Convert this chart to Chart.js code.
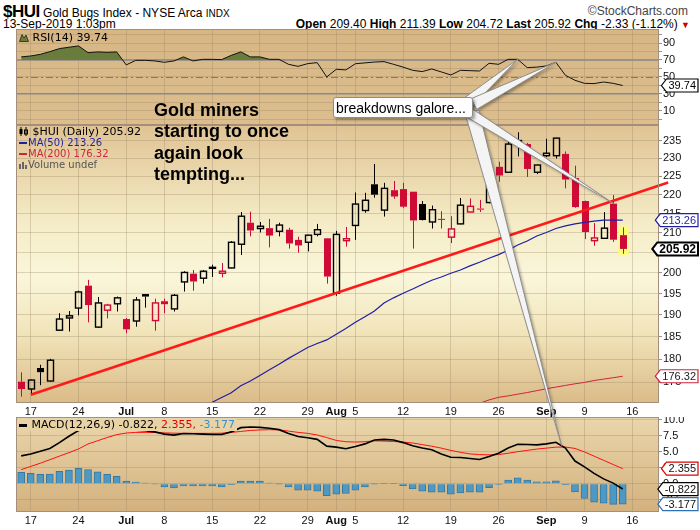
<!DOCTYPE html>
<html>
<head>
<meta charset="utf-8">
<script src="https://cdn.jsdelivr.net/npm/chart.js@4.4.1/dist/chart.umd.min.js"></script>
<style>
  body { margin: 0; width: 700px; height: 530px; background: #fff; position: relative; overflow: hidden;
         font-family: "Liberation Sans", Arial, sans-serif; color: #000; }
  canvas { position: absolute; left: 0; }
  .txt { position: absolute; white-space: nowrap; }
  .leg { position: absolute; white-space: nowrap; font-family: "DejaVu Sans", Verdana, sans-serif; }
  .dash { display: inline-block; width: 8px; height: 2px; vertical-align: middle; margin-right: 1px; }
</style>
</head>
<body>
<div class="txt" style="left:3px; top:2px; font-size:12px;"><span style="font-size:17px; font-weight:bold; letter-spacing:-0.5px">$HUI</span> Gold Bugs Index - NYSE Arca <span style="font-size:10px">INDX</span></div>
<div class="txt" style="right:12px; top:4px; font-size:12px; color:#444">&copy;StockCharts.com</div>
<div class="txt" style="left:3px; top:17px; font-size:12px;">13-Sep-2019 1:03pm</div>
<div class="txt" style="right:10px; top:17px; font-size:12px;"><b>Open</b> 209.40 <b>High</b> 211.39 <b>Low</b> 204.72 <b>Last</b> 205.92 <b>Chg</b> -2.33 (-1.12%) <span style="color:#c00; font-size:9px">&#9660;</span></div>

<canvas id="rsi" width="700" height="96" style="top:29px"></canvas>
<canvas id="price" width="700" height="295" style="top:125px"></canvas>
<canvas id="macd" width="700" height="113" style="top:417px"></canvas>

<div class="leg" style="left:19px; top:31px; font-size:11px;"><svg width="10" height="9" style="vertical-align:-1px"><path d="M0.5 8.5 L3 1.5 L5 5 L7 2 L9.5 8.5 Z" fill="#6a7c3c" stroke="#222" stroke-width="0.8"/></svg> RSI(14) 39.74</div>

<div class="leg" style="left:19px; top:126px; font-size:11px; line-height:11px;">
  <div><svg width="10" height="9" style="vertical-align:-1px"><path d="M2 0 V9 M7 0 V9" stroke="#000"/><rect x="0.5" y="2" width="3" height="5" fill="#000"/><rect x="5.5" y="3" width="3" height="4" fill="none" stroke="#000"/></svg> $HUI (Daily) 205.92</div>
  <div style="font-size:10px; color:#1f1fa5"><span class="dash" style="background:#1f1fa5"></span>MA(50) 213.26</div>
  <div style="font-size:10px; color:#d0243c"><span class="dash" style="background:#d0243c"></span>MA(200) 176.32</div>
  <div style="font-size:10px; color:#555"><svg width="9" height="8" style="vertical-align:-1px"><rect x="0" y="3" width="2" height="5" fill="#666"/><rect x="3" y="1" width="2" height="7" fill="#666"/><rect x="6" y="4" width="2" height="4" fill="#666"/></svg>Volume undef</div>
</div>

<div class="leg" style="left:18px; top:419px; font-size:11px; line-height:12px; background:#e8d3a7; padding:0 2px 0 1px;"><span class="dash" style="background:#000; height:3px"></span> MACD(12,26,9) -0.822, <span style="color:#e00000">2.355,</span> <span style="color:#3a8fd0">-3.177</span></div>

<div class="txt" style="left:154px; top:100px; font-size:18px; font-weight:bold; line-height:21.3px;">Gold miners<br>starting to once<br>again look<br>tempting...</div>

<canvas id="overlay" width="700" height="530" style="top:0"></canvas>

<div class="txt" style="left:333px; top:97px; width:140px; height:21px; background:#fff; border:1px solid #8c8c8c; border-radius:3px; box-shadow:2px 2px 3px rgba(0,0,0,0.35); font-size:14px; line-height:21px; padding-left:2px; box-sizing:border-box;">breakdowns galore...</div>

<script>
// ---- data: $HUI daily, 14 Jun - 13 Sep 2019 ----
const dates = [
  'Jun 14', 'Jun 17', 'Jun 18', 'Jun 19', 'Jun 20', 'Jun 21', 'Jun 24', 'Jun 25', 'Jun 26', 'Jun 27', 'Jun 28',
  'Jul 1', 'Jul 2', 'Jul 3', 'Jul 5', 'Jul 8', 'Jul 9', 'Jul 10', 'Jul 11', 'Jul 12', 'Jul 15', 'Jul 16',
  'Jul 17', 'Jul 18', 'Jul 19', 'Jul 22', 'Jul 23', 'Jul 24', 'Jul 25', 'Jul 26', 'Jul 29', 'Jul 30', 'Jul 31',
  'Aug 1', 'Aug 2', 'Aug 5', 'Aug 6', 'Aug 7', 'Aug 8', 'Aug 9', 'Aug 12', 'Aug 13', 'Aug 14', 'Aug 15',
  'Aug 16', 'Aug 19', 'Aug 20', 'Aug 21', 'Aug 22', 'Aug 23', 'Aug 26', 'Aug 27', 'Aug 28', 'Aug 29', 'Aug 30',
  'Sep 3', 'Sep 4', 'Sep 5', 'Sep 6', 'Sep 9', 'Sep 10', 'Sep 11', 'Sep 12', 'Sep 13'
];
const open = [
  175.15, 173.6, 178.1, 175.3, 186.5, 189.3, 191.6, 196.9, 187.2, 191.1, 192.6,
  189.05, 188.6, 194.9, 188.7, 193.2, 191.4, 197.8, 199.8, 198.7, 201.25, 199.9,
  201.2, 207.1, 212.6, 211.1, 211.2, 210.4, 210.8, 208.2, 207.6, 209.6, 208.6,
  195.1, 208.0, 211.9, 215.8, 222.8, 215.9, 221.2, 221.5, 220.8, 217.5, 212.8,
  213.6, 208.9, 212.3, 215.4, 216.3, 217.9, 227.6, 226.1, 233.7, 234.0, 226.1,
  230.7, 230.7, 231.2, 224.5, 218.3, 208.0, 208.6, 217.6, 209.40
];
const high = [
  177.15, 175.6, 178.8, 180.1, 190.4, 190.9, 195.7, 198.3, 194.2, 192.6, 194.3,
  189.3, 194.2, 194.9, 193.8, 193.8, 194.9, 200.4, 200.7, 200.7, 202.0, 202.4,
  207.9, 215.4, 215.5, 212.8, 213.6, 212.6, 211.3, 209.0, 209.5, 212.3, 208.7,
  210.5, 211.5, 220.6, 220.5, 228.4, 223.2, 223.7, 223.2, 220.8, 218.3, 217.1,
  215.6, 214.3, 219.1, 219.0, 218.6, 227.9, 229.0, 235.2, 237.4, 234.3, 228.2,
  235.5, 235.8, 231.9, 227.9, 218.4, 212.5, 215.4, 219.9, 211.39
];
const low = [
  172.0, 172.4, 174.4, 175.2, 186.3, 186.2, 189.9, 188.3, 187.0, 189.2, 190.8,
  185.8, 187.3, 191.7, 186.4, 190.4, 190.8, 195.5, 195.7, 197.4, 199.0, 198.9,
  201.1, 204.4, 209.1, 210.1, 206.3, 209.1, 206.0, 205.0, 205.3, 209.1, 197.4,
  194.5, 206.5, 208.2, 215.2, 219.2, 214.2, 218.9, 216.4, 206.0, 213.2, 211.1,
  211.1, 207.4, 212.2, 215.3, 215.4, 217.7, 223.5, 226.0, 230.5, 224.8, 225.6,
  230.3, 229.9, 221.7, 216.5, 208.4, 206.7, 208.5, 207.7, 204.72
];
const close = [
  173.6, 175.5, 177.2, 179.8, 189.05, 189.8, 195.4, 192.3, 192.8, 192.3, 194.0,
  186.7, 193.5, 194.3, 192.8, 192.5, 194.6, 200.1, 197.9, 200.4, 201.35, 200.4,
  207.6, 214.3, 210.6, 211.7, 209.3, 212.0, 207.3, 206.8, 209.4, 210.8, 199.1,
  209.6, 208.5, 217.5, 218.5, 220.0, 221.7, 219.5, 216.8, 213.2, 213.3, 216.0,
  213.4, 211.0, 217.2, 216.9, 216.1, 225.8, 225.2, 234.0, 235.0, 227.0, 228.1,
  231.4, 235.7, 224.1, 216.7, 210.2, 208.7, 211.2, 208.25, 205.92
];
const priorClose = 175.6;          // 13 Jun close, only sets the colour of the first candle

const ma50Start = 20;              // first day on which MA(50) is inside the panel
const ma50 = [
  170.8, 171.8, 172.8, 174.3, 175.3, 176.5, 177.7, 178.9, 180.2, 181.4,
  182.6, 183.5, 184.3, 185.6, 186.9, 188.3, 189.6, 190.9, 192.8, 194.0,
  195.1, 196.1, 197.2, 198.2, 199.0, 199.9, 200.7, 201.7, 202.6, 203.6,
  204.5, 205.6, 206.9, 207.9, 209.2, 210.1, 211.1, 211.8, 212.3, 212.7,
  213.0, 213.3, 213.3, 213.26
];
const ma200Start = 48;
const ma200 = [170.6, 171.3, 171.85, 172.15, 172.5, 172.85, 173.25, 173.65, 174.0, 174.35, 174.7, 175.0, 175.4, 175.7, 176.0, 176.32];

const trendFrom = [1, 172.4];      // hand-drawn support line: [day index, price]
const trendTo = [67.76, 223.3];

const rsi14 = [
  73.6, 74.7, 76.6, 79.8, 83.4, 85.0, 86.6, 78.6, 79.5, 79.0, 79.5,
  64.1, 69.5, 69.5, 68.8, 67.2, 68.8, 73.6, 68.8, 70.7, 70.7, 70.4,
  75.4, 79.5, 73.6, 73.6, 70.7, 70.7, 64.8, 62.4, 65.6, 66.8, 49.9,
  58.9, 58.2, 65.5, 66.5, 67.5, 68.0, 64.8, 61.5, 57.7, 56.2, 59.3,
  55.8, 52.2, 57.7, 57.3, 56.9, 66.0, 64.8, 70.7, 70.7, 60.9, 61.5,
  62.9, 67.2, 51.8, 45.9, 42.3, 42.0, 43.9, 42.3, 39.74
];

const macdLine = [
  4.34, 4.65, 5.05, 5.5, 6.4, 7.4, 8.3, 8.5, 8.6, 8.65, 8.8,
  8.33, 8.33, 8.28, 8.08, 7.73, 7.58, 7.83, 7.78, 7.73, 7.68, 7.68,
  8.08, 8.74, 8.84, 8.79, 8.64, 8.43, 7.83, 7.37, 7.17, 6.92, 5.86,
  5.71, 5.45, 5.81, 6.21, 6.82, 6.92, 6.82, 6.41, 5.91, 5.56, 5.30,
  4.65, 4.14, 4.09, 3.94, 3.79, 4.24, 4.75, 5.56, 6.16, 6.11, 6.06,
  6.21, 6.46, 5.56, 3.54, 2.63, 1.62, 0.76, 0.10, -0.822
];
const macdSignal = [
  2.20, 2.70, 3.20, 3.75, 4.30, 4.85, 5.42, 6.20, 6.70, 7.20, 7.65,
  7.90, 8.00, 8.00, 7.98, 7.93, 7.88, 7.85, 7.85, 7.85, 7.85, 7.88,
  8.00, 8.15, 8.30, 8.38, 8.42, 8.40, 8.20, 8.00, 7.85, 7.60, 7.20,
  6.75, 6.55, 6.50, 6.55, 6.68, 6.65, 6.58, 6.50, 6.35, 6.10, 5.85,
  5.55, 5.20, 4.90, 4.65, 4.55, 4.50, 4.55, 4.75, 5.00, 5.20, 5.40,
  5.55, 5.70, 5.72, 5.50, 4.95, 4.30, 3.65, 3.00, 2.355
];
const macdHist = [
  1.77, 1.62, 1.46, 1.52, 1.92, 2.12, 2.42, 2.22, 1.87, 1.46, 1.16,
  0.40, 0.25, 0.10, -0.05, -0.50, -0.66, -0.35, -0.35, -0.35, -0.35, -0.50,
  -0.15, 0.40, 0.40, 0.40, 0.10, -0.02, -0.50, -1.01, -1.01, -1.16, -1.87,
  -1.62, -1.52, -1.01, -0.50, -0.02, 0.05, 0.05, -0.30, -0.81, -1.16, -1.31,
  -1.31, -1.62, -1.41, -1.31, -1.31, -0.61, -0.10, 0.56, 0.91, 0.56, 0.30,
  0.30, 0.45, -0.15, -1.26, -2.27, -2.88, -3.03, -3.2, -3.177
];

// axis ticks
const tickIdx = [1, 6, 11, 15, 20, 25, 30, 33, 35, 40, 45, 50, 55, 59, 64];
const tickText = ['17', '24', 'Jul', '8', '15', '22', '29', 'Aug', '5', '12', '19', '26', 'Sep', '9', '16'];
const monthTicks = ['Jul', 'Aug', 'Sep'];
const priceTicks = [175, 180, 185, 190, 195, 200, 205, 210, 215, 220, 225, 230, 235];
const rsiTicks = [0, 10, 20, 30, 40, 50, 60, 70, 80, 90, 100];
const rsiLabelled = [10, 30, 50, 70, 90];
const macdTicks = [-2.5, 0, 2.5, 5, 7.5, 10];

// ---- look ----
const FONT = '"Liberation Sans", Arial, sans-serif';
const gridColor = 'rgba(150,125,95,0.30)';
const frameColor = '#a48e7e';
const xMin = -0.545, xMax = 66.8;
const axisWidth = 41;
const boxRight = 698;

const pts = (arr, start = 0) => arr.map((v, i) => ({ x: i + start, y: v }));

function xAxis(showLabels, height) {
  return {
    type: 'linear', min: xMin, max: xMax, offset: false,
    afterBuildTicks: s => { s.ticks = tickIdx.map(v => ({ value: v })); },
    afterFit: s => { s.height = height; s.paddingLeft = 0; s.paddingRight = 0; },
    grid: { color: gridColor, drawTicks: false, offset: false },
    border: { display: false },
    ticks: {
      display: showLabels, autoSkip: false, maxRotation: 0, padding: 2, color: '#111',
      callback: (v, i) => tickText[i],
      font: c => ({ family: FONT, size: 11, weight: monthTicks.includes(tickText[c.index]) ? 'bold' : 'normal' })
    }
  };
}

function yAxis(extra) {
  return Object.assign({
    position: 'right',
    afterFit: s => { s.width = axisWidth; s.paddingTop = 0; s.paddingBottom = 0; },
    grid: { color: gridColor, drawTicks: true, tickLength: 3, tickColor: frameColor },
    border: { display: false },
    ticks: { autoSkip: false, padding: 1, color: '#111', font: { family: FONT, size: 11 } }
  }, extra);
}

function panel(stops) {
  return {
    id: 'panel',
    beforeDraw(chart) {
      const { ctx, chartArea: a } = chart;
      const g = ctx.createLinearGradient(0, a.top, 0, a.bottom);
      stops.forEach(([o, c]) => g.addColorStop(o, c));
      ctx.save();
      ctx.fillStyle = g;
      ctx.fillRect(a.left, a.top, a.right - a.left, a.bottom - a.top);
      ctx.restore();
    },
    afterDraw(chart) {
      const { ctx, chartArea: a } = chart;
      ctx.save();
      ctx.strokeStyle = frameColor;
      ctx.lineWidth = 1;
      ctx.strokeRect(a.left + 0.5, a.top + 0.5, a.right - a.left - 1, a.bottom - a.top - 1);
      ctx.restore();
    }
  };
}

// last-value tag on the right axis, pointing left at its value
function valueBox(ctx, yc, text, border, color, bold) {
  ctx.save();
  ctx.font = (bold ? 'bold 12px ' : '11px ') + FONT;
  const w = ctx.measureText(text).width + 4, h = 13, tip = 5;
  const x1 = boxRight, x0 = x1 - w - tip;
  ctx.beginPath();
  ctx.moveTo(x0, yc);
  ctx.lineTo(x0 + tip, yc - h / 2);
  ctx.lineTo(x1, yc - h / 2);
  ctx.lineTo(x1, yc + h / 2);
  ctx.lineTo(x0 + tip, yc + h / 2);
  ctx.closePath();
  ctx.fillStyle = '#fff';
  ctx.fill();
  ctx.lineWidth = bold ? 2 : 1.2;
  ctx.strokeStyle = border;
  ctx.stroke();
  ctx.fillStyle = color;
  ctx.textBaseline = 'middle';
  ctx.fillText(text, x0 + tip + 2, yc + 0.5);
  ctx.restore();
}

const common = {
  responsive: false, animation: false, devicePixelRatio: 1, events: [],
  plugins: { legend: { display: false }, tooltip: { enabled: false } }
};

// ---- RSI panel ----
const rsiChart = new Chart(document.getElementById('rsi'), {
  type: 'line',
  data: {
    datasets: [{
      data: pts(rsi14), borderColor: '#111', borderWidth: 1, pointRadius: 0, tension: 0,
      fill: { target: { value: 70 }, above: '#6a7c3c', below: 'rgba(0,0,0,0)' }
    }]
  },
  options: Object.assign({}, common, {
    layout: { padding: { left: 16, right: 0, top: 0, bottom: 0 } },
    scales: {
      x: xAxis(false, 0),
      y: yAxis({
        type: 'linear', min: -7, max: 106.6,
        afterBuildTicks: s => { s.ticks = rsiTicks.map(v => ({ value: v })); },
        ticks: { autoSkip: false, padding: 1, color: '#111', font: { family: FONT, size: 11 },
                 callback: v => rsiLabelled.includes(v) ? String(v) : '' }
      })
    }
  }),
  plugins: [panel([[0, '#d7b684'], [1, '#dcbe8e']]), {
    id: 'rsiLevels',
    beforeDatasetsDraw(chart) {
      const { ctx, chartArea: a, scales: { y } } = chart;
      ctx.save();
      ctx.strokeStyle = '#8a8a8a';
      ctx.lineWidth = 1.5;
      [70, 30].forEach(v => {
        const py = y.getPixelForValue(v);
        ctx.beginPath(); ctx.moveTo(a.left, py); ctx.lineTo(a.right, py); ctx.stroke();
      });
      ctx.lineWidth = 1;
      ctx.strokeStyle = '#7a7a7a';
      ctx.setLineDash([7, 3, 2, 3]);
      const p50 = Math.round(y.getPixelForValue(50)) + 0.5;
      ctx.beginPath(); ctx.moveTo(a.left, p50); ctx.lineTo(a.right, p50); ctx.stroke();
      ctx.restore();
    },
    afterDraw(chart) {
      valueBox(chart.ctx, chart.scales.y.getPixelForValue(rsi14[rsi14.length - 1]), '39.74', '#000', '#000', false);
    }
  }]
});

// ---- price panel ----
const candles = {
  id: 'candles',
  beforeDatasetsDraw(chart) {
    const { ctx, chartArea: a, scales: { x, y } } = chart;
    ctx.save();
    ctx.beginPath();
    ctx.rect(a.left, a.top, a.right - a.left, a.bottom - a.top);
    ctx.clip();
    close.forEach((c, i) => {
      const o = open[i];
      const prev = i ? close[i - 1] : priorClose;
      const col = c < prev ? '#d00a36' : '#000';
      const px = Math.round(x.getPixelForValue(i)) + 0.5;
      const yH = y.getPixelForValue(high[i]), yL = y.getPixelForValue(low[i]);
      const yO = y.getPixelForValue(o), yC = y.getPixelForValue(c);
      const top = Math.min(yO, yC), bot = Math.max(yO, yC, top + 1);
      if (i === close.length - 1) {
        ctx.fillStyle = '#ffff6e';
        ctx.fillRect(px - 5, yH - 1, 10, yL - yH + 2);
      }
      ctx.strokeStyle = col;
      ctx.lineWidth = 1;
      ctx.beginPath();
      ctx.moveTo(px, yH); ctx.lineTo(px, top);
      ctx.moveTo(px, bot); ctx.lineTo(px, yL);
      ctx.stroke();
      if (c < o) {
        ctx.fillStyle = col;
        ctx.fillRect(px - 3.5, top, 7, bot - top);
      } else {
        ctx.lineWidth = 1.4;
        ctx.strokeRect(px - 3, top, 6, bot - top);
      }
    });
    ctx.restore();
  },
  afterDraw(chart) {
    const { ctx, scales: { y } } = chart;
    valueBox(ctx, y.getPixelForValue(ma50[ma50.length - 1]), '213.26', '#1f1fa5', '#1f1fa5', false);
    valueBox(ctx, y.getPixelForValue(close[close.length - 1]), '205.92', '#000', '#000', true);
    valueBox(ctx, y.getPixelForValue(ma200[ma200.length - 1]), '176.32', '#d0243c', '#222', false);
  }
};

const priceChart = new Chart(document.getElementById('price'), {
  type: 'line',
  data: {
    datasets: [
      { data: pts(ma50, ma50Start), borderColor: '#1f1fa5', borderWidth: 1.2, pointRadius: 0, tension: 0 },
      { data: pts(ma200, ma200Start), borderColor: '#d0243c', borderWidth: 1, pointRadius: 0, tension: 0 },
      { data: [{ x: trendFrom[0], y: trendFrom[1] }, { x: trendTo[0], y: trendTo[1] }],
        borderColor: '#ff1a1a', borderWidth: 2.6, pointRadius: 0, tension: 0,
        clip: { left: 0, top: 0, right: 12, bottom: 0 } }
    ]
  },
  options: Object.assign({}, common, {
    layout: { padding: { left: 16, right: 0, top: 0, bottom: 0 } },
    scales: {
      x: xAxis(true, 17),
      y: yAxis({
        type: 'logarithmic', min: 170.66, max: 239.5,
        afterBuildTicks: s => { s.ticks = priceTicks.map(v => ({ value: v })); },
        ticks: { autoSkip: false, padding: 1, color: '#111', font: { family: FONT, size: 11 }, callback: v => String(v) }
      })
    }
  }),
  plugins: [panel([[0, '#e0c393'], [0.36, '#f5edc8'], [0.55, '#faf6da'], [0.75, '#f1e4ba'], [1, '#dbbb88']]), candles]
});

// ---- MACD panel ----
const macdChart = new Chart(document.getElementById('macd'), {
  type: 'bar',
  data: {
    datasets: [
      { type: 'line', data: pts(macdLine), borderColor: '#000', borderWidth: 1.6, pointRadius: 0, tension: 0, order: 0 },
      { type: 'line', data: pts(macdSignal), borderColor: '#ff1010', borderWidth: 1, pointRadius: 0, tension: 0, order: 1 },
      { type: 'bar', data: pts(macdHist), backgroundColor: '#4d99c3', borderColor: '#3878a2', borderWidth: 1,
        barThickness: 7, grouped: false, order: 2 }
    ]
  },
  options: Object.assign({}, common, {
    layout: { padding: { left: 16, right: 0, top: 0, bottom: 0 } },
    scales: {
      x: xAxis(true, 18),
      y: yAxis({
        type: 'linear', min: -4.4, max: 10.4,
        afterBuildTicks: s => { s.ticks = macdTicks.map(v => ({ value: v })); },
        ticks: { autoSkip: false, padding: 1, color: '#111', font: { family: FONT, size: 11 }, callback: v => v.toFixed(1) }
      })
    }
  }),
  plugins: [panel([[0, '#ead6ab'], [1, '#d3b17e']]), {
    id: 'macdBoxes',
    afterDraw(chart) {
      const { ctx, scales: { y } } = chart;
      const n = macdLine.length - 1;
      valueBox(ctx, y.getPixelForValue(macdSignal[n]), '2.355', '#e00000', '#111', false);
      valueBox(ctx, y.getPixelForValue(macdLine[n]), '-0.822', '#000', '#111', false);
      valueBox(ctx, y.getPixelForValue(macdHist[n]), '-3.177', '#2f6fb5', '#111', false);
    }
  }]
});

// ---- callout pointers, pinned to values on the three panels ----
function onPage(chart, top, xv, yv) {
  return [chart.scales.x.getPixelForValue(xv), top + chart.scales.y.getPixelForValue(yv)];
}
function wedge(ctx, bx, by, tip, hw) {
  const [tx, ty] = tip;
  const dx = tx - bx, dy = ty - by, len = Math.hypot(dx, dy);
  const nx = -dy / len * hw, ny = dx / len * hw;
  ctx.beginPath();
  ctx.moveTo(bx + nx, by + ny);
  ctx.lineTo(tx, ty);
  ctx.lineTo(bx - nx, by - ny);
  ctx.closePath();
  ctx.save();
  ctx.shadowColor = 'rgba(0,0,0,0.35)';
  ctx.shadowBlur = 3;
  ctx.shadowOffsetX = 2;
  ctx.shadowOffsetY = 2;
  ctx.fillStyle = '#f4f4f4';
  ctx.fill();
  ctx.restore();
  ctx.strokeStyle = '#8d8d8d';
  ctx.lineWidth = 1;
  ctx.stroke();
}
const ov = document.getElementById('overlay').getContext('2d');
wedge(ov, 472, 112, onPage(macdChart, 417, 56.6, 5.95), 7);
wedge(ov, 468, 112, onPage(priceChart, 125, 62.05, 217.6), 5);
wedge(ov, 466, 104, onPage(rsiChart, 29, 52, 70.7), 6);
wedge(ov, 474, 104, onPage(rsiChart, 29, 56, 67.2), 6);
</script>
</body>
</html>
